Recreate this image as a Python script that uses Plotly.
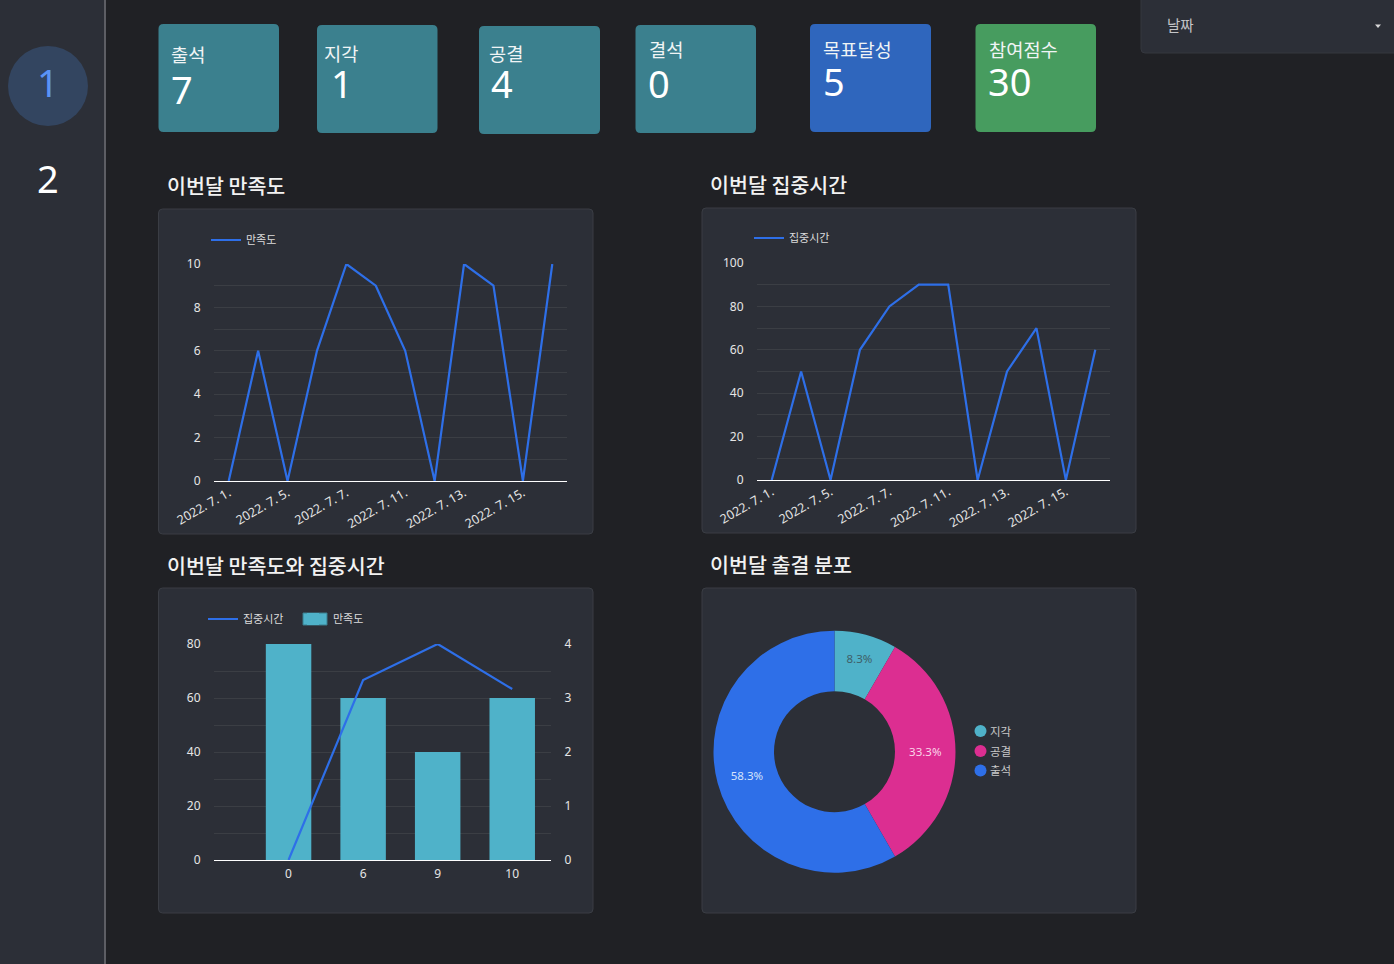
import plotly.graph_objects as go

W, H = 1394, 964
FONT = "Noto Sans CJK KR"
NUM_FONT = "Noto Sans"

# ---- data ----
dates = ["2022. 7. 1.", "2022. 7. 4.", "2022. 7. 5.", "2022. 7. 6.", "2022. 7. 7.", "2022. 7. 8.",
         "2022. 7. 11.", "2022. 7. 12.", "2022. 7. 13.", "2022. 7. 14.", "2022. 7. 15.", "2022. 7. 18."]
date_ticks = ["2022. 7. 1.", "2022. 7. 5.", "2022. 7. 7.", "2022. 7. 11.", "2022. 7. 13.", "2022. 7. 15."]
satisfaction = [0, 6, 0, 6, 10, 9, 6, 0, 10, 9, 0, 10]
focus = [0, 50, 0, 60, 80, 90, 90, 0, 50, 70, 0, 60]
sat_levels = ["0", "6", "9", "10"]
focus_avg = [0, 66.67, 80, 63.33]
sat_counts = [4, 3, 2, 3]
att_labels = ["지각", "공결", "출석"]
att_values = [1, 4, 7]
att_colors = ["#4fb2c9", "#dc2e91", "#2e6fe8"]
att_text_colors = ["#3f5f68", "#fbd5ea", "#d5e3fb"]
card_labels = ["출석", "지각", "공결", "결석", "목표달성", "참여점수"]
card_values = ["7", "1", "4", "0", "5", "30"]
section_titles = ["이번달 만족도", "이번달 집중시간", "이번달 만족도와 집중시간", "이번달 출결 분포"]

# ---- palette ----
BG, PANEL, BORDER = "#202125", "#2c2f37", "#3a3d44"
GRID, LINE = "#3b3e44", "#2e6fe8"
TEAL, BLUE, GREEN = "#3b808e", "#2f66bd", "#479c5f"


def fx(p):
    return p / W


def fy(p):
    return 1 - p / H


def rrect(x0, y0, x1, y1, fill, border=None, r=4):
    yt, yb = fy(y0), fy(y1)
    rx, ry = r / W, r / H
    a, b = fx(x0), fx(x1)
    path = (f"M{a+rx},{yt} L{b-rx},{yt} Q{b},{yt} {b},{yt-ry} L{b},{yb+ry} Q{b},{yb} {b-rx},{yb} "
            f"L{a+rx},{yb} Q{a},{yb} {a},{yb+ry} L{a},{yt-ry} Q{a},{yt} {a+rx},{yt} Z")
    return dict(type="path", xref="paper", yref="paper", path=path, fillcolor=fill,
                line=dict(color=border or fill, width=1 if border else 0), layer="below")


def text(x, y, s, size, color="#ffffff", anchor="left", weight=None, family=FONT):
    f = dict(family=family, size=size, color=color)
    if weight:
        f["weight"] = weight
    return dict(x=fx(x), y=fy(y), xref="paper", yref="paper", text=s, showarrow=False,
                xanchor=anchor, yanchor="middle", font=f, borderpad=0, borderwidth=0)


shapes, annotations = [], []

# sidebar
shapes.append(dict(type="rect", xref="paper", yref="paper", x0=0, x1=fx(104), y0=0, y1=1,
                   fillcolor=PANEL, line_width=0, layer="below"))
shapes.append(dict(type="rect", xref="paper", yref="paper", x0=fx(104), x1=fx(106), y0=0, y1=1,
                   fillcolor="#5d5e64", line_width=0, layer="below"))
shapes.append(dict(type="circle", xref="paper", yref="paper", x0=fx(8), x1=fx(88), y0=fy(126), y1=fy(46),
                   fillcolor="#334560", line_width=0, layer="below"))
annotations.append(text(47.5, 81.5, "1", 38, "#5b93f5", "center", family=NUM_FONT))
annotations.append(text(47.5, 177.5, "2", 38, "#ffffff", "center", family=NUM_FONT))

# dropdown
shapes.append(rrect(1141, -6, 1400, 53, PANEL, "#35383f"))
annotations.append(text(1167, 24, "날짜", 14.5, "#c4c5c8"))
shapes.append(dict(type="path", xref="paper", yref="paper",
                   path=f"M{fx(1375)},{fy(24.5)} L{fx(1381)},{fy(24.5)} L{fx(1378)},{fy(28)} Z",
                   fillcolor="#d8d8d8", line_width=0, layer="below"))

# cards: box, label position, value position
card_boxes = [(158.5, 24, 279, 132, TEAL), (317, 25, 437.5, 133, TEAL), (479, 26, 600, 134, TEAL),
              (635.5, 25, 756, 133, TEAL), (810, 24, 931, 132, BLUE), (975.5, 24, 1096, 132, GREEN)]
label_pos = [(171, 53), (324, 52), (489, 52), (649, 48.5), (823.5, 48), (989, 48)]
value_pos = [(171, 88.5), (331, 83), (491, 83), (648, 83), (823, 81), (988, 81)]
for box, lp, vp, lab, val in zip(card_boxes, label_pos, value_pos, card_labels, card_values):
    shapes.append(rrect(box[0], box[1], box[2], box[3], box[4], r=5))
    annotations.append(text(lp[0], lp[1], lab, 18.7, "#f0f4f5"))
    annotations.append(text(vp[0], vp[1], val, 38, "#ffffff", family=NUM_FONT))

# panels and section titles
panels = [(158.5, 209, 593, 534), (702, 208, 1136, 533), (158.5, 588, 593, 913), (702, 588, 1136, 913)]
title_pos = [(167, 185), (710, 184), (167, 565), (710, 564)]
for p, tp, t in zip(panels, title_pos, section_titles):
    shapes.append(rrect(p[0], p[1], p[2], p[3], PANEL, BORDER))
    annotations.append(text(tp[0], tp[1], t, 20.6, "#f2f2f2", weight=500))

# donut legend
for lab, col, cy in zip(att_labels, att_colors, (731, 751, 770.5)):
    shapes.append(dict(type="circle", xref="paper", yref="paper", x0=fx(974.5), x1=fx(986.5),
                       y0=fy(cy + 6), y1=fy(cy - 6), fillcolor=col, line_width=0, layer="below"))
    annotations.append(text(990, cy - 0.5, lab, 11.5, "#c9c9c9"))

# wide glyph behind the bar legend's own swatch
shapes.append(dict(type="rect", xref="paper", yref="paper", x0=fx(303), x1=fx(327), y0=fy(625), y1=fy(613),
                   fillcolor="#4fb2c9", line=dict(color="#3b7f8e", width=1), layer="above"))


def dom_x(a, b):
    return [fx(a), fx(b)]


def dom_y(top, bottom):
    return [fy(bottom), fy(top)]


tick_font = dict(family=NUM_FONT, size=12, color="#e6e6e6")
date_font = dict(family=NUM_FONT, size=12.5, color="#e6e6e6")
leg_font = dict(family=FONT, size=11, color="#dcdcdc")


def y_axis(domain, rng, major, minor, **kw):
    return dict(domain=domain, range=rng, tickmode="linear", tick0=0, dtick=major, showgrid=True,
                gridcolor=GRID, gridwidth=1, zeroline=False, showline=False, ticks="outside", ticklen=10,
                tickcolor="rgba(0,0,0,0)", tickfont=tick_font, automargin=False,
                minor=dict(dtick=minor, tick0=0, showgrid=True, gridcolor=GRID, gridwidth=1), **kw)


def x_axis(domain, anchor, **kw):
    return dict(domain=domain, anchor=anchor, type="category", showgrid=False, zeroline=False, automargin=False,
                showline=True, linecolor="#ffffff", linewidth=1, **kw)


def date_axis(domain, anchor):
    return x_axis(domain, anchor, categoryorder="array", categoryarray=dates, tickmode="array", tickvals=date_ticks,
                  ticktext=date_ticks, tickangle=-30, range=[-0.5, 11.5], ticks="", ticklabelstandoff=-1,
                  tickfont=date_font)


def legend(x, y):
    return dict(x=fx(x), y=fy(y), xref="container", yref="container", xanchor="left", yanchor="middle",
                orientation="h", bgcolor="rgba(0,0,0,0)", font=leg_font, itemwidth=30, traceorder="normal",
                tracegroupgap=0)


fig = go.Figure()

# line charts
fig.add_trace(go.Scatter(x=dates, y=satisfaction, name="만족도", mode="lines", line=dict(color=LINE, width=2.2),
                         xaxis="x", yaxis="y", legend="legend"))
fig.add_trace(go.Scatter(x=dates, y=focus, name="집중시간", mode="lines", line=dict(color=LINE, width=2.2),
                         xaxis="x2", yaxis="y2", legend="legend2"))

# combo chart: line on the left axis above, bars on the right axis below
fig.add_trace(go.Scatter(x=sat_levels, y=focus_avg, name="집중시간", mode="lines", line=dict(color=LINE, width=2.2),
                         xaxis="x3", yaxis="y4", legend="legend3"))
fig.add_trace(go.Bar(x=sat_levels, y=sat_counts, name="만족도", width=0.61,
                     marker=dict(color="#4fb2c9", line=dict(width=0)),
                     xaxis="x3", yaxis="y3", legend="legend3"))

# donut
fig.add_trace(go.Pie(labels=att_labels, values=att_values, hole=0.5, sort=False, direction="clockwise", rotation=0,
                     marker=dict(colors=att_colors, line=dict(width=0)), textinfo="percent", texttemplate="%{percent:.1%}",
                     textposition="inside", insidetextorientation="horizontal",
                     textfont=dict(family=NUM_FONT, size=11.5, color=att_text_colors),
                     domain=dict(x=dom_x(834.5 - 121, 834.5 + 121), y=dom_y(751.7 - 121, 751.7 + 121)),
                     automargin=False, showlegend=False))

leg3 = legend(203, 619)
leg3.update(entrywidth=45, entrywidthmode="pixels")

fig.update_layout(
    template=None,
    width=W, height=H, autosize=False, margin=dict(l=0, r=0, t=0, b=0, pad=0, autoexpand=False),
    paper_bgcolor=BG, plot_bgcolor="rgba(0,0,0,0)", font=dict(family=FONT, color="#e6e6e6"),
    shapes=shapes, annotations=annotations, hovermode=False,
    xaxis=date_axis(dom_x(214, 567), "y"),
    yaxis=y_axis(dom_y(264, 481), [0, 10], 2, 1, anchor="x"),
    xaxis2=date_axis(dom_x(757, 1110), "y2"),
    yaxis2=y_axis(dom_y(263, 480), [0, 100], 20, 10, anchor="x2"),
    xaxis3=x_axis(dom_x(214, 551), "y3", categoryorder="array", categoryarray=sat_levels, range=[-1.0, 3.52],
                  ticks="outside", ticklen=3, tickcolor="rgba(0,0,0,0)", tickfont=tick_font),
    yaxis3=y_axis(dom_y(644, 860), [0, 4], 1, 0.5, anchor="x3", side="right"),
    yaxis4=dict(domain=dom_y(644, 860), range=[0, 80], tickmode="linear", tick0=0, dtick=20, showgrid=False,
                zeroline=False, showline=False, ticks="outside", ticklen=10, tickcolor="rgba(0,0,0,0)",
                tickfont=tick_font, overlaying="y3", side="left", anchor="x3", automargin=False),
    legend=legend(206, 240),
    legend2=legend(749, 238),
    legend3=leg3,
)

fig.write_html("out.html", config=dict(displayModeBar=False),
               post_script="document.body.style.margin='0';document.body.style.overflow='hidden';")
